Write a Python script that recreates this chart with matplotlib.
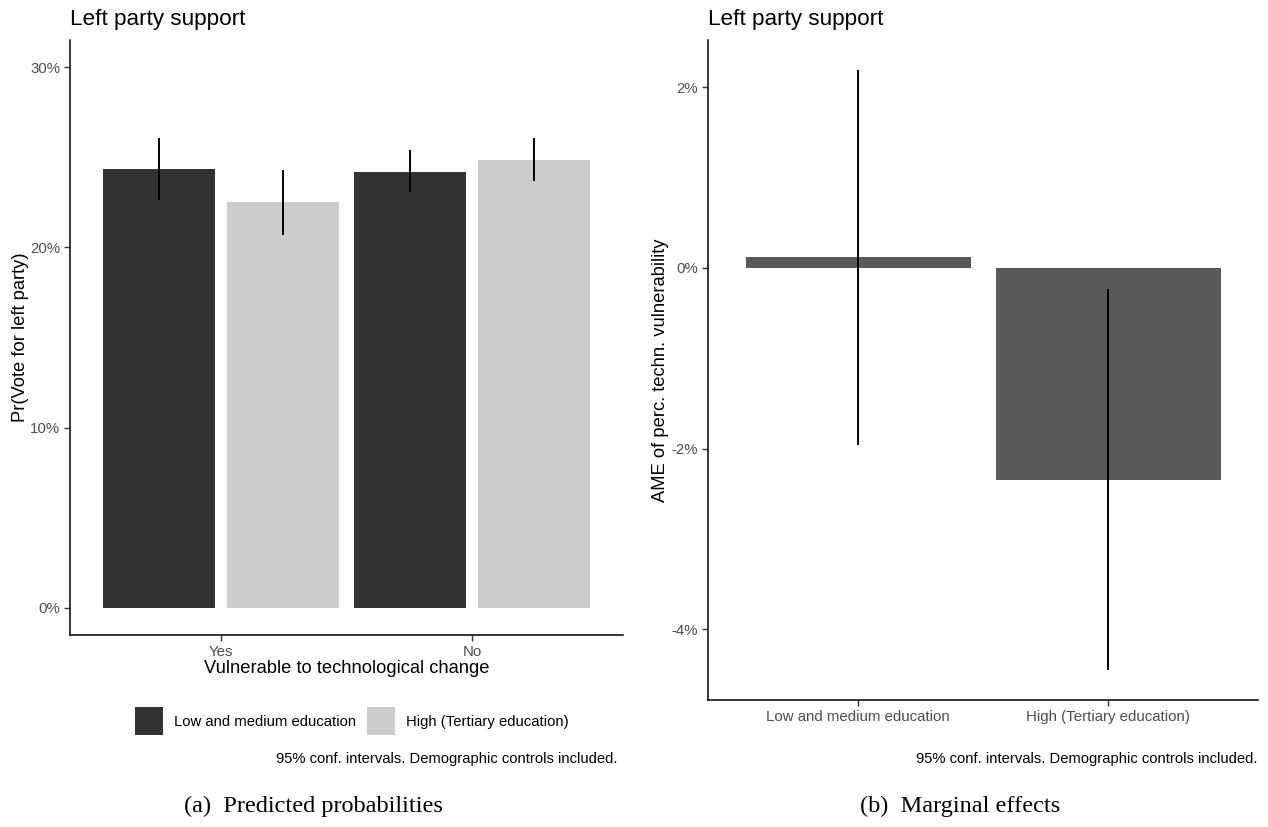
import numpy as np
import matplotlib
matplotlib.use('Agg')
import matplotlib.pyplot as plt
from matplotlib.patches import Patch
from matplotlib.ticker import FuncFormatter

plt.rcParams['font.family'] = ['Liberation Sans', 'DejaVu Sans']

# panel (a): predicted probabilities (%)
vuln_groups = ['Yes', 'No']
edu_groups = ['Low and medium education', 'High (Tertiary education)']
pred_low = [24.35, 24.2]
pred_low_lo = [22.6, 23.05]
pred_low_hi = [26.05, 25.4]
pred_high = [22.5, 24.85]
pred_high_lo = [20.7, 23.7]
pred_high_hi = [24.3, 26.05]

# panel (b): marginal effects (%)
ame = [0.12, -2.35]
ame_lo = [-1.96, -4.45]
ame_hi = [2.19, -0.23]

col_low = '#333333'
col_high = '#CCCCCC'
col_ame = '#595959'
tick_col = '#4D4D4D'

W, H = 1268, 827
fig = plt.figure(figsize=(W / 100, H / 100), dpi=100)


def px_axes(l, t, r, b):
    return fig.add_axes([l / W, 1 - b / H, (r - l) / W, (b - t) / H])


def style(ax):
    for s in ['top', 'right']:
        ax.spines[s].set_visible(False)
    for s in ['left', 'bottom']:
        ax.spines[s].set_linewidth(1.1)
        ax.spines[s].set_color('black')
    ax.tick_params(axis='both', length=4, width=1, color='#333333',
                   labelcolor=tick_col, labelsize=10.8, pad=3)


pct = FuncFormatter(lambda v, p: '%d%%' % round(v))

# ---- left panel
ax1 = px_axes(70, 40, 623, 635)
style(ax1)
x = np.arange(1, len(vuln_groups) + 1)
off = 0.247
bw = 0.445
ax1.bar(x - off, pred_low, width=bw, color=col_low)
ax1.bar(x + off, pred_high, width=bw, color=col_high)
ax1.vlines(x - off, pred_low_lo, pred_low_hi, color='black', lw=1.4)
ax1.vlines(x + off, pred_high_lo, pred_high_hi, color='black', lw=1.4)
ax1.set_xlim(0.4, 2.6)
ax1.set_ylim(-1.5, 31.5)
ax1.set_yticks([0, 10, 20, 30])
ax1.yaxis.set_major_formatter(pct)
ax1.set_xticks(x)
ax1.set_xticklabels(vuln_groups)
ax1.set_xlabel('Vulnerable to technological change', fontsize=13.2, labelpad=1)
ax1.set_ylabel('Pr(Vote for left party)', fontsize=13.2, labelpad=1)

handles = [Patch(facecolor=col_low, edgecolor='none'),
           Patch(facecolor=col_high, edgecolor='none')]
fig.legend(handles, edu_groups, loc='center', bbox_to_anchor=(352 / W, 1 - 721 / H),
           ncol=2, frameon=False, fontsize=10.7, handlelength=1.9, handleheight=2.45,
           columnspacing=0.7, handletextpad=0.75, borderpad=0)
fig.text(617 / W, 1 - 759 / H, '95% conf. intervals. Demographic controls included.',
         ha='right', va='center', fontsize=10.6)

# ---- right panel
ax2 = px_axes(708, 40, 1258, 700)
style(ax2)
x2 = np.arange(1, len(edu_groups) + 1)
ax2.bar(x2, ame, width=0.9, color=col_ame)
ax2.vlines(x2, ame_lo, ame_hi, color='black', lw=1.4)
ax2.set_xlim(0.4, 2.6)
ax2.set_ylim(-4.78, 2.52)
ax2.set_yticks([-4, -2, 0, 2])
ax2.yaxis.set_major_formatter(pct)
ax2.set_xticks(x2)
ax2.set_xticklabels(edu_groups)
ax2.set_ylabel('AME of perc. techn. vulnerability', fontsize=13.2, labelpad=2)
fig.text(1257 / W, 1 - 759 / H, '95% conf. intervals. Demographic controls included.',
         ha='right', va='center', fontsize=10.6)

# titles
for xl in [70, 708]:
    fig.text(xl / W, 1 - 19 / H, 'Left party support', ha='left', va='center', fontsize=16.2)

# sub captions
fig.text(313 / W, 1 - 806 / H, '(a)  Predicted probabilities', ha='center', va='center',
         fontsize=17.5, family=['Liberation Serif', 'DejaVu Serif'])
fig.text(960 / W, 1 - 806 / H, '(b)  Marginal effects', ha='center', va='center',
         fontsize=17.5, family=['Liberation Serif', 'DejaVu Serif'])

fig.savefig('out.png', dpi=100)
